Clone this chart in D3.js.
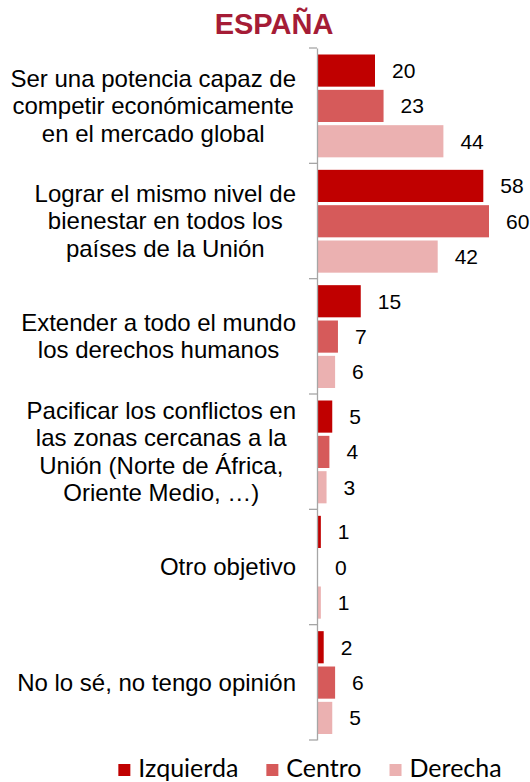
<!DOCTYPE html>
<html lang="es">
<head>
<meta charset="utf-8">
<title>España</title>
<script src="https://cdn.jsdelivr.net/npm/d3@7"></script>
<style>
  body { margin: 0; background: #fff; }
  svg { display: block; }
  .cat { font-family: "Liberation Sans", Arial, sans-serif; font-size: 24px; fill: #000; }
  .val { font-family: "Liberation Sans", Arial, sans-serif; font-size: 21px; fill: #000; }
  .title { font-family: "Liberation Sans", Arial, sans-serif; font-size: 29px; font-weight: bold; fill: #a51c36; }
  .legend text { font-family: Lato, "Open Sans", sans-serif; font-size: 25px; fill: #000; }
</style>
</head>
<body>
<script>
// data
var categories = [
  ["Ser una potencia capaz de", "competir económicamente", "en el mercado global"],
  ["Lograr el mismo nivel de", "bienestar en todos los", "países de la Unión"],
  ["Extender a todo el mundo", "los derechos humanos"],
  ["Pacificar los conflictos en", "las zonas cercanas a la", "Unión (Norte de África,", "Oriente Medio, …)"],
  ["Otro objetivo"],
  ["No lo sé, no tengo opinión"]
];
var seriesNames = ["Izquierda", "Centro", "Derecha"];
var izquierda = [20, 58, 15, 5, 1, 2];
var centro    = [23, 60, 7, 4, 0, 6];
var derecha   = [44, 42, 6, 3, 1, 5];
var colors = ["#c00000", "#d65a5a", "#ebb1b1"];

var w = 530, h = 782;
var axisX = 317;

var svg = d3.select("body").append("svg")
  .attr("width", w)
  .attr("height", h);

var series = [izquierda, centro, derecha];

// scales
var yScale = d3.scaleBand()
  .domain(d3.range(categories.length))
  .range([48, 740]);

var inner = d3.scaleBand()
  .domain(d3.range(seriesNames.length))
  .range([6.5, yScale.bandwidth() - 6])
  .paddingInner(0.09);

var xScale = d3.scaleLinear()
  .domain([0, 60])
  .range([axisX + 1, 489]);

// title
svg.append("text")
  .attr("class", "title")
  .attr("x", 274)
  .attr("y", 34)
  .attr("text-anchor", "middle")
  .text("ESPAÑA");

// bars
var groups = svg.selectAll("g.cat-group")
  .data(categories)
  .enter()
  .append("g")
  .attr("class", "cat-group")
  .attr("transform", function(d, i) { return "translate(0," + yScale(i) + ")"; });

groups.selectAll("rect")
  .data(function(d, i) {
    return series.map(function(s, k) { return { k: k, v: s[i] }; });
  })
  .enter()
  .append("rect")
  .attr("x", xScale(0))
  .attr("y", function(d) { return inner(d.k); })
  .attr("width", function(d) { return xScale(d.v) - xScale(0); })
  .attr("height", inner.bandwidth())
  .attr("fill", function(d) { return colors[d.k]; });

groups.selectAll("text.val")
  .data(function(d, i) {
    return series.map(function(s, k) { return { k: k, v: s[i] }; });
  })
  .enter()
  .append("text")
  .attr("class", "val")
  .attr("x", function(d) { return xScale(d.v) + 17; })
  .attr("y", function(d) { return inner(d.k) + inner.bandwidth() / 2; })
  .attr("dy", "0.36em")
  .text(function(d) { return d.v; });

// axis
var axis = d3.axisLeft(yScale).tickSize(0).tickFormat("");
var gAxis = svg.append("g")
  .attr("transform", "translate(" + axisX + ",0)")
  .call(axis);
gAxis.select(".domain").attr("stroke", "#a6a6a6").attr("stroke-width", 1.3);

// tick marks at category boundaries
gAxis.selectAll("line.bound")
  .data(d3.range(categories.length + 1))
  .enter()
  .append("line")
  .attr("class", "bound")
  .attr("x1", -8).attr("x2", 0)
  .attr("y1", function(i) { return yScale.range()[0] + i * yScale.step(); })
  .attr("y2", function(i) { return yScale.range()[0] + i * yScale.step(); })
  .attr("stroke", "#a6a6a6")
  .attr("stroke-width", 1.3);

// category labels: block right-aligned, lines centred within block
var lineH = 27.5;
groups.each(function(lines, i) {
  var g = d3.select(this);
  var t = g.append("text").attr("class", "cat").attr("text-anchor", "middle");
  var cy = yScale.bandwidth() / 2;
  lines.forEach(function(line, j) {
    t.append("tspan")
      .attr("y", cy + (j - (lines.length - 1) / 2) * lineH)
      .attr("dy", "0.35em")
      .text(line);
  });
  var maxW = 0;
  t.selectAll("tspan").each(function() {
    maxW = Math.max(maxW, this.getComputedTextLength());
  });
  t.selectAll("tspan").attr("x", 296 - maxW / 2);
});

// legend
var legend = svg.append("g").attr("class", "legend");
var items = legend.selectAll("g")
  .data(seriesNames)
  .enter()
  .append("g");
items.append("rect")
  .attr("width", 12).attr("height", 12)
  .attr("y", 764)
  .attr("fill", function(d, i) { return colors[i]; });
items.append("text")
  .attr("x", 20)
  .attr("y", 777)
  .text(function(d) { return d; });

var xPos = 0, widths = [];
items.each(function() {
  widths.push(20 + d3.select(this).select("text").node().getComputedTextLength());
});
var total = d3.sum(widths) + 28 * (widths.length - 1);
xPos = 310 - total / 2;
items.attr("transform", function(d, i) {
  var x = xPos;
  xPos += widths[i] + 28;
  return "translate(" + x + ",0)";
});
</script>
</body>
</html>
